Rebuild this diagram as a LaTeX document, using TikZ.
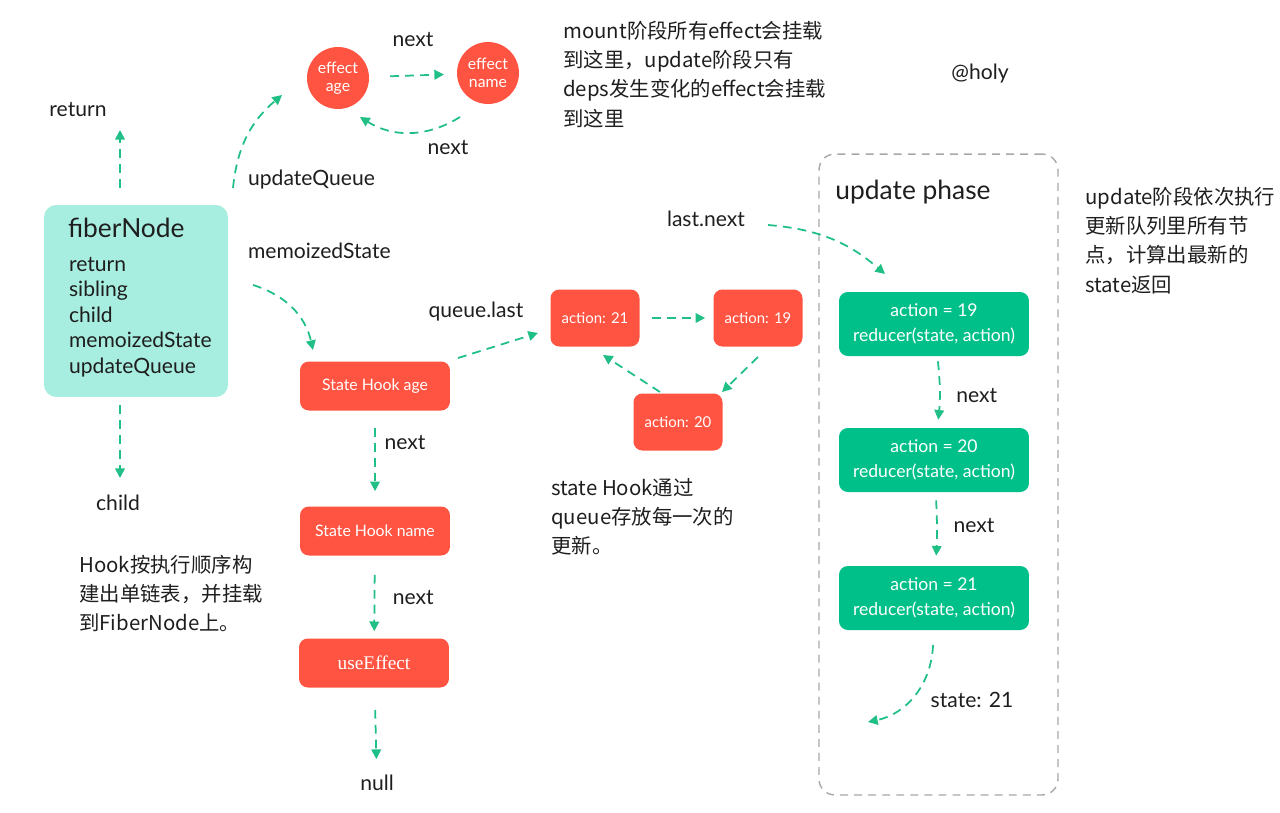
\documentclass[tikz,border=0pt]{standalone}
\usepackage{fontspec}
\setmainfont{Lato}
\newfontfamily\cjk{Noto Sans CJK SC}
\newfontfamily\oldserif{Liberation Serif}
\usetikzlibrary{arrows.meta,positioning}

\definecolor{hookred}{HTML}{FF5442}
\definecolor{fibermint}{HTML}{A8EEE0}
\definecolor{reducergreen}{HTML}{00C08A}
\definecolor{linkgreen}{HTML}{1FBF86}
\definecolor{framegray}{HTML}{A8A8A8}
\definecolor{inkblack}{HTML}{1E1E1E}

\begin{document}
\begin{tikzpicture}[x=0.02cm,y=-0.02cm,
    link/.style={draw=linkgreen,line width=1pt,dash pattern=on 5pt off 3.5pt,
      -{Triangle[length=5.5pt,width=5.5pt]}},
    lbl/.style={font=\fontsize{12}{14}\selectfont,text=inkblack,inner sep=1pt},
    note/.style={font=\cjk\fontsize{11.6}{16.6}\selectfont,text=inkblack,align=left,
      anchor=north west,inner sep=0pt},
    hookbox/.style={fill=hookred,rounded corners=5pt,minimum width=3cm,minimum height=0.98cm,
      text=white,font=\fontsize{9}{11}\selectfont},
    actbox/.style={fill=hookred,rounded corners=5pt,minimum width=1.78cm,minimum height=1.14cm,
      text=white,font=\fontsize{8.5}{10}\selectfont},
    effcircle/.style={circle,fill=hookred,minimum size=1.24cm,inner sep=0pt,align=center,
      text=white,font=\fontsize{9}{10.5}\selectfont},
    redbox/.style={fill=reducergreen,rounded corners=5pt,minimum width=3.8cm,minimum height=1.28cm,
      text=white,align=center,font=\fontsize{10}{14.5}\selectfont},
  ]
  \useasboundingbox (0,0) rectangle (1280,812);

  % fiber node
  \node[fill=fibermint,rounded corners=7pt,minimum width=3.68cm,minimum height=3.84cm] (fiber) at (136,301) {};
  \node[lbl,anchor=west,font=\fontsize{15}{17}\selectfont] (ftitle) at (66,228) {fiberNode};
  \node[lbl,anchor=north west,align=left,font=\fontsize{12}{14.5}\selectfont] (ffields) at (67,255)
    {return\\sibling\\child\\memoizedState\\updateQueue};

  \node[lbl] (ret) at (78,110) {return};
  \node[lbl] (chd) at (118,503) {child};
  \coordinate (retS) at (120,188);
  \coordinate (retE) at (120,130);
  \coordinate (chdS) at (120,405);
  \coordinate (chdE) at (120,478);
  \draw[link] (retS) -- (retE);
  \draw[link] (chdS) -- (chdE);

  % effect list
  \node[effcircle] (effage) at (338,78) {effect\\age};
  \node[effcircle] (effname) at (488,73) {effect\\name};
  \node[lbl,anchor=west] (uq) at (246,180) {updateQueue};
  \coordinate (uqS) at (233,188);
  \coordinate (uqE) at (282,95);
  \draw[link] (uqS) to[bend left=22] (uqE);
  \draw[link,shorten <=17pt*0.7,shorten >=12pt*0.6] (effage) -- (effname) node[lbl,midway,above=15pt] (n1) {next};
  \coordinate (backS) at (460,117);
  \coordinate (backE) at (360,117);
  \draw[link] (backS) to[bend left=32] (backE);
  \node[lbl] (n2) at (448,148) {next};

  \node[note] (mountnote) at (563,21)
    {mount阶段所有effect会挂载\\到这里，update阶段只有\\deps发生变化的effect会挂载\\到这里};
  \node[lbl] (holy) at (980,74) {@holy};

  % hook list
  \node[lbl,anchor=west] (ms) at (246,251) {memoizedState};
  \node[hookbox] (hage) at (375,386) {State Hook age};
  \node[hookbox] (hname) at (375,531) {State Hook name};
  \node[hookbox,font=\oldserif\fontsize{11}{13}\selectfont] (heff) at (374,663) {useEffect};
  \node[lbl] (null) at (377,783) {null};
  \coordinate (msS) at (253,285);
  \coordinate (msE) at (313,350);
  \draw[link] (msS) to[bend left=30] (msE);
  \draw[link,shorten <=17*0.02cm,shorten >=15*0.02cm] (hage) -- (hname) node[lbl,pos=0.33,right=4pt] (n3) {next};
  \draw[link,shorten <=19*0.02cm,shorten >=7*0.02cm] (hname) -- (heff) node[lbl,pos=0.5,right=9pt] (n4) {next};
  \draw[link,shorten <=22*0.02cm,shorten >=14*0.02cm] (heff) -- (null);

  % update queue ring
  \node[actbox] (a21) at (595,318) {action: 21};
  \node[actbox] (a19) at (758,318) {action: 19};
  \node[actbox] (a20) at (678,422) {action: 20};
  \node[lbl] (ql) at (476,312) {queue.last};
  \coordinate (qlS) at (458,358);
  \coordinate (qlE) at (538,333);
  \draw[link] (qlS) -- (qlE);
  \draw[link,shorten <=12*0.02cm,shorten >=8*0.02cm] (a21) -- (a19);
  \coordinate (r1S) at (758,357);
  \coordinate (r1E) at (722,392);
  \coordinate (r2S) at (660,392);
  \coordinate (r2E) at (603,355);
  \draw[link] (r1S) -- (r1E);
  \draw[link] (r2S) -- (r2E);
  \node[note] (hooknote) at (551,478) {state Hook通过\\queue存放每一次的\\更新。};
  \node[note] (listnote) at (79,555) {Hook按执行顺序构\\建出单链表，并挂载\\到FiberNode上。};

  % update phase
  \node[draw=framegray,line width=0.8pt,dash pattern=on 4.5pt off 3.5pt,rounded corners=9pt,
    minimum width=4.78cm,minimum height=12.82cm] (phase) at (938.5,474.5) {};
  \node[lbl,font=\fontsize{15}{17}\selectfont] (ptitle) at (913,192) {update phase};
  \node[lbl] (ln) at (706,219) {last.next};
  \coordinate (lnS) at (768,225);
  \coordinate (lnE) at (885,274);
  \draw[link] (lnS) to[bend left=18] (lnE);
  \node[redbox] (g19) at (934,324) {action = 19\\reducer(state, action)};
  \node[redbox] (g20) at (934,460) {action = 20\\reducer(state, action)};
  \node[redbox] (g21) at (934,598) {action = 21\\reducer(state, action)};
  \draw[link,shorten <=5*0.02cm,shorten >=8*0.02cm] (g19) to[bend left=6] node[lbl,pos=0.55,right=8pt] (n5) {next} (g20);
  \draw[link,shorten <=8*0.02cm,shorten >=10*0.02cm] (g20) to[bend left=3] node[lbl,pos=0.45,right=8pt] (n6) {next} (g21);
  \coordinate (stS) at (933,645);
  \coordinate (stE) at (868,722);
  \draw[link] (stS) to[bend left=38] (stE);
  \node[lbl] (st) at (972,700) {state: 21};
  \node[note] (phasenote) at (1085,187) {update阶段依次执行\\更新队列里所有节\\点，计算出最新的\\state返回};
\end{tikzpicture}
\end{document}
